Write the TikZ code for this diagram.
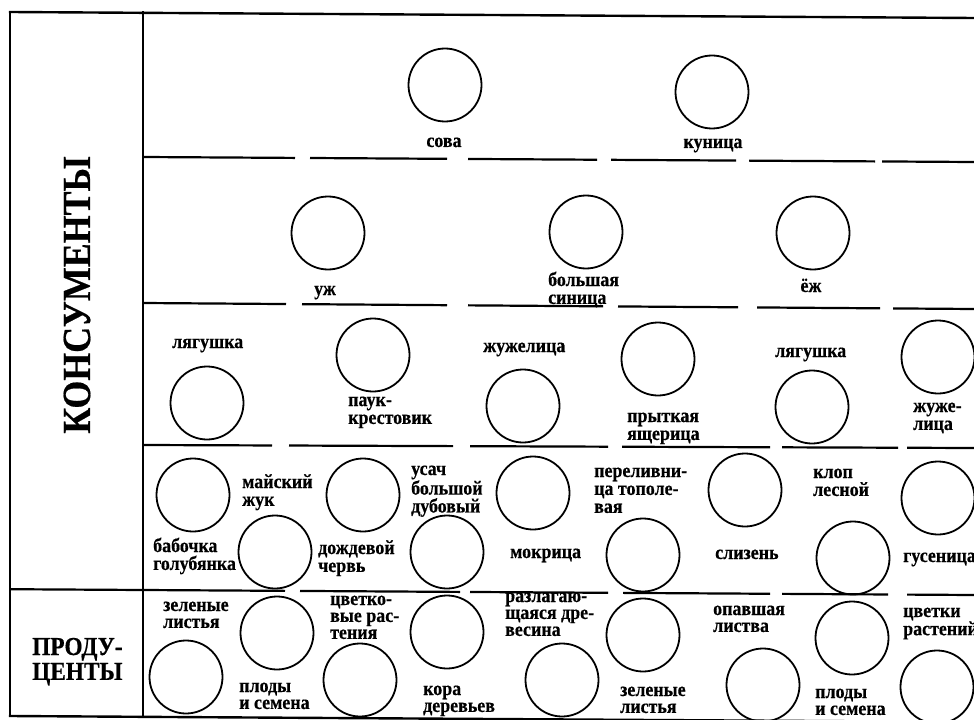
\documentclass[tikz,border=0pt]{standalone}
\usepackage{fontspec}
\setmainfont{Liberation Serif}
\newfontfamily\labfont[FakeStretch=0.9,FakeBold=0.5]{Liberation Serif Bold}
\newcommand\twol[2]{\vtop{\hbox{#1}\hbox{#2}}}
\newcommand\threel[3]{\vtop{\hbox{#1}\hbox{#2}\hbox{#3}}}
\begin{document}
\begin{tikzpicture}[x=1bp,y=-1bp,
  frame/.style={line width=2.4bp, line cap=rect},
  seg/.style={line width=2.2bp},
  circ/.style={circle, draw, line width=1.8bp, minimum size=73bp, inner sep=0pt},
  lab/.style={font=\labfont\fontsize{20}{18}\selectfont, inner sep=0pt, anchor=base west},
  plab/.style={lab, font=\labfont\fontsize{20}{17}\selectfont},
  clab/.style={lab, anchor=base}]
\useasboundingbox (0,0) rectangle (974,720);
\clip (0,0) rectangle (974,720);
% frame
\draw[frame] (10,12) -- (974,18);
\draw[frame] (10,12) -- (10,716);
\draw[frame] (143,12) -- (143,716);
\draw[frame] (10,716) -- (974,722);
% dashed level lines
\foreach \a/\b in {143/295,310/447,468/597,611/736,749/875,882/980}
  \draw[seg] (\a,{157+(\a-143)*5/831}) -- (\b,{157+(\b-143)*5/831});
\foreach \a/\b in {143/286,302/447,468/603,618/738,757/880,893/980}
  \draw[seg] (\a,{303+(\a-143)*6/831}) -- (\b,{303+(\b-143)*6/831});
\foreach \a/\b in {143/272,289/453,470/608,622/770,782/898,907/980}
  \draw[seg] (\a,{445+(\a-143)*3/831}) -- (\b,{445+(\b-143)*3/831});
\foreach \a/\b in {10/285,300/460,470/608,623/770,782/888,907/980}
  \draw[seg] (\a,{590+(\a-143)*5/831}) -- (\b,{590+(\b-143)*5/831});
% side titles
\node[rotate=90, inner sep=0pt, font=\labfont\fontsize{40}{40}\selectfont] (konsum) at (77,295) {КОНСУМЕНТЫ};
\node[lab, font=\labfont\fontsize{26}{25}\selectfont] (produc) at (32,655) {\twol{ПРОДУ-}{ЦЕНТЫ}};
% row 1
\node[circ] (c11) at (445,85) {};
\node[circ] (c12) at (712,92) {};
\node[clab] (l-sova) at (444,147) {сова};
\node[clab] (l-kunica) at (713,148) {куница};
% row 2
\node[circ] (c21) at (328,233) {};
\node[circ] (c22) at (586,232) {};
\node[circ] (c23) at (813,233) {};
\node[clab] (l-uzh) at (325,295) {уж};
\node[lab] (l-sinica) at (548,286) {\twol{большая}{синица}};
\node[clab] (l-ezh) at (811,292) {ёж};
% row 3
\node[circ] (c31) at (207,403) {};
\node[circ] (c32) at (373,355) {};
\node[circ] (c33) at (523,406) {};
\node[circ] (c34) at (658,359) {};
\node[circ] (c35) at (812,407) {};
\node[circ] (c36) at (938,357) {};
\node[lab] (l-lyag1) at (172,348) {лягушка};
\node[lab] (l-pauk) at (348,406) {\twol{паук-}{крестовик}};
\node[lab] (l-zhuzh1) at (483,352) {жужелица};
\node[lab] (l-yasch) at (627,422) {\twol{прыткая}{ящерица}};
\node[lab] (l-lyag2) at (775,357) {лягушка};
\node[lab] (l-zhuzh2) at (913,412) {\twol{жуже-}{лица}};
% row 4
\node[circ] (c41) at (193,495) {};
\node[circ] (c42) at (275,552) {};
\node[circ] (c43) at (363,495) {};
\node[circ] (c44) at (447,552) {};
\node[circ] (c45) at (533,493) {};
\node[circ] (c46) at (643,555) {};
\node[circ] (c47) at (745,490) {};
\node[circ] (c48) at (853,558) {};
\node[circ] (c49) at (938,498) {};
\node[lab] (l-maj) at (242,488) {\twol{майский}{жук}};
\node[lab] (l-bab) at (153,552) {\twol{бабочка}{голубянка}};
\node[lab] (l-dozhd) at (318,554) {\twol{дождевой}{червь}};
\node[lab] (l-usach) at (411,475) {\threel{усач}{большой}{дубовый}};
\node[lab] (l-mokr) at (510,558) {мокрица};
\node[lab] (l-perel) at (594,477) {\threel{переливни-}{ца тополе-}{вая}};
\node[lab] (l-sliz) at (715,559) {слизень};
\node[lab] (l-klop) at (813,478) {\twol{клоп}{лесной}};
\node[lab] (l-gus) at (903,562) {гусеница};
% row 5 (producers)
\node[circ] (c51) at (186,677) {};
\node[circ] (c52) at (277,633) {};
\node[circ] (c53) at (360,680) {};
\node[circ] (c54) at (447,632) {};
\node[circ] (c55) at (562,680) {};
\node[circ] (c56) at (643,635) {};
\node[circ] (c57) at (763,685) {};
\node[circ] (c58) at (852,638) {};
\node[circ] (c59) at (937,687) {};
\node[plab] (p-zel1) at (163,611) {\twol{зеленые}{листья}};
\node[plab] (p-plod1) at (239,692) {\twol{плоды}{и семена}};
\node[plab] (p-cvet) at (330,605) {\threel{цветко-}{вые рас-}{тения}};
\node[plab] (p-kora) at (423,695) {\twol{кора}{деревьев}};
\node[plab] (p-razl) at (505,602) {\threel{разлагаю-}{щаяся дре-}{весина}};
\node[plab] (p-zel2) at (620,696) {\twol{зеленые}{листья}};
\node[plab] (p-opav) at (713,615) {\twol{опавшая}{листва}};
\node[plab] (p-plod2) at (815,698) {\twol{плоды}{и семена}};
\node[plab] (p-cvetki) at (903,617) {\twol{цветки}{растений}};
\end{tikzpicture}
\end{document}
